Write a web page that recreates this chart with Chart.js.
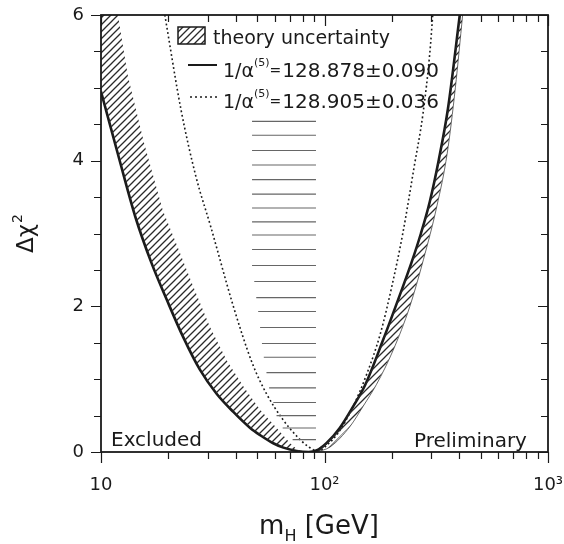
<!DOCTYPE html>
<html>
<head>
<meta charset="utf-8">
<script src="https://cdn.jsdelivr.net/npm/chart.js@4/dist/chart.umd.min.js"></script>
<style>
  html, body { margin: 0; padding: 0; background: #fff; }
  #wrap { width: 564px; height: 544px; }
</style>
</head>
<body>
<div id="wrap"><canvas id="chi2" width="564" height="544"></canvas></div>
<script>
'use strict';

// ── Data (mH in GeV, Δχ²) ───────────────────────────────────────
// 1/α(5) = 128.878 ± 0.090
const solidCurve = [
  [10, 4.95], [12.0, 4.05], [14.24, 3.23], [16.8, 2.6], [19.7, 2.09], [23.3, 1.58],
  [27.7, 1.13], [32.9, 0.8], [39.1, 0.55], [46.5, 0.33], [51.6, 0.23], [59, 0.12],
  [65.5, 0.06], [75, 0.015], [85, 0.0], [92, 0.02], [102, 0.12], [117, 0.33],
  [134, 0.62], [152, 0.92], [183, 1.54], [217, 2.15], [245, 2.6], [270, 3.0],
  [296, 3.44], [325, 4.02], [357, 4.72], [403, 6.0],
];

// 1/α(5) = 128.905 ± 0.036
const dottedCurve = [
  [19.3, 6.0], [22.8, 4.7], [26.6, 3.78], [31.0, 3.09], [39.1, 2.0], [47.5, 1.22],
  [55, 0.8], [65, 0.45], [75, 0.22], [85, 0.07], [92, 0.02], [97, 0.03], [100.5, 0.07],
  [115, 0.26], [134, 0.62], [155, 1.08], [178, 1.63], [200, 2.27], [224, 3.0],
  [252, 3.92], [276, 4.65], [296, 5.48], [305, 6.0],
];

// theory uncertainty: outer edges of the hatched bands
const bandLeftEdge = [
  [10, 7.4], [11.9, 6.0], [13.2, 5.16], [15.6, 4.24], [18.9, 3.32], [21.8, 2.85],
  [25.9, 2.27], [30.7, 1.72], [36.5, 1.26], [43.4, 0.9], [51.5, 0.58], [61.1, 0.33],
  [70.2, 0.12], [75, 0.04], [80, 0.0],
];
const bandRightEdge = [
  [92, 0.0], [106, 0.07], [130, 0.35], [149, 0.63], [171, 0.93], [203, 1.4],
  [241, 2.0], [277, 2.64], [318, 3.37], [354, 4.1], [385, 5.0], [415, 6.0],
];

// horizontally ruled region
const ruleLevels = [4.54, 4.35, 4.14, 3.94, 3.74, 3.54, 3.35, 3.16, 2.98, 2.78, 2.56, 2.34,
  2.12, 1.93, 1.71, 1.49, 1.30, 1.09, 0.88, 0.68, 0.50, 0.33, 0.17];
const ruleStart = [47.4, 47.4, 47.4, 47.4, 47.4, 47.4, 47.4, 47.4, 47.4, 47.4, 47.4, 48.5,
  49.5, 50.5, 51.5, 52.5, 53.5, 55, 56.5, 59, 61, 65, 72];
const ruleEnd = 91.6;

// axes
const xTicks = [10, 20, 30, 40, 50, 60, 70, 80, 90, 100, 200, 300, 400, 500, 600, 700, 800, 900, 1000];
const xMajor = [10, 100, 1000];
const xMajorLabels = ['10', '10²', '10³'];
const yTicks = [0, 0.5, 1, 1.5, 2, 2.5, 3, 3.5, 4, 4.5, 5, 5.5, 6];
const yLabelled = [0, 2, 4, 6];

// ── Helpers ──────────────────────────────────────────────────────
const FONT = 'DejaVu Sans';
const INK = '#1a1a1a';
const pts = (arr) => arr.map(([x, y]) => ({ x, y }));

function makeHatch(ctx, gap, lw) {
  const tile = document.createElement('canvas');
  tile.width = gap; tile.height = gap;
  const g = tile.getContext('2d');
  g.strokeStyle = '#2a2a2a';
  g.lineWidth = lw;
  g.beginPath();
  g.moveTo(0, gap); g.lineTo(gap, 0);
  g.moveTo(-gap / 2, gap / 2); g.lineTo(gap / 2, -gap / 2);
  g.moveTo(gap / 2, gap * 1.5); g.lineTo(gap * 1.5, gap / 2);
  g.stroke();
  return ctx.createPattern(tile, 'repeat');
}

const canvas = document.getElementById('chi2');
const ctx = canvas.getContext('2d');
const hatch = makeHatch(ctx, 7, 1.3);

// polygons for the hatched bands
const leftBand = solidCurve.filter(([m]) => m <= 80).concat(bandLeftEdge.slice().reverse());
const rightBand = solidCurve.filter(([m]) => m >= 92).concat(bandRightEdge.slice().reverse());

// ruled lines as one broken dataset
const rules = [];
ruleLevels.forEach((lv, i) => {
  rules.push({ x: ruleStart[i], y: lv }, { x: ruleEnd, y: lv }, { x: ruleEnd, y: null });
});

// ── Frame, ticks, texts ─────────────────────────────────────────
const decorations = {
  id: 'decorations',
  afterDraw(chart) {
    const { ctx: c, chartArea: a, scales: { x, y } } = chart;
    c.save();
    c.strokeStyle = INK;
    c.lineWidth = 1.8;
    c.strokeRect(a.left, a.top, a.right - a.left, a.bottom - a.top);

    c.lineWidth = 1.2;
    c.beginPath();
    xTicks.forEach((v) => {
      const px = Math.round(x.getPixelForValue(v)) + 0.5;
      const len = xMajor.includes(v) ? 11 : 7;
      c.moveTo(px, a.bottom); c.lineTo(px, a.bottom + len);
      c.moveTo(px, a.top); c.lineTo(px, a.top + len);
    });
    yTicks.forEach((v) => {
      const py = Math.round(y.getPixelForValue(v)) + 0.5;
      const len = yLabelled.includes(v) ? 10 : 7;
      c.moveTo(a.left, py); c.lineTo(a.left - len, py);
      c.moveTo(a.right, py); c.lineTo(a.right - len, py);
    });
    c.stroke();

    // legend
    c.fillStyle = '#fff';
    c.fillRect(178, 27, 27, 17);
    c.fillStyle = hatch;
    c.fillRect(178, 27, 27, 17);
    c.lineWidth = 1.5;
    c.strokeRect(178, 27, 27, 17);
    c.fillStyle = INK;
    c.textBaseline = 'alphabetic';
    c.font = `19px ${FONT}`;
    c.fillText('theory uncertainty', 213, 44);

    c.lineWidth = 2;
    c.beginPath(); c.moveTo(188, 65); c.lineTo(217, 65); c.stroke();
    c.lineWidth = 1.5;
    c.setLineDash([2, 3]);
    c.beginPath(); c.moveTo(190, 97); c.lineTo(217, 97); c.stroke();
    c.setLineDash([]);

    const alphaLine = (xs, base, value) => {
      c.font = `19px ${FONT}`;
      c.fillText('1/α', xs, base);
      let cx = xs + c.measureText('1/α').width;
      c.font = `11px ${FONT}`;
      c.fillText('(5)', cx, base - 11);
      cx += c.measureText('(5)').width;
      c.font = `14px ${FONT}`;
      c.fillText('=', cx, base - 2);
      cx += c.measureText('=').width + 1;
      c.font = `20px ${FONT}`;
      c.fillText(value, cx, base);
    };
    alphaLine(223, 77, '128.878±0.090');
    alphaLine(223, 108, '128.905±0.036');

    // region notes
    c.font = `20px ${FONT}`;
    c.fillText('Excluded', 111, 446);
    c.fillText('Preliminary', 414, 447);

    // x title: m_H [GeV]
    c.font = `26px ${FONT}`;
    const wm = c.measureText('m').width;
    const wg = c.measureText(' [GeV]').width;
    c.font = `16px ${FONT}`;
    const wh = c.measureText('H').width;
    const tx = 319 - (wm + wh + wg) / 2;
    c.font = `26px ${FONT}`;
    c.fillText('m', tx, 534);
    c.font = `16px ${FONT}`;
    c.fillText('H', tx + wm, 541);
    c.font = `26px ${FONT}`;
    c.fillText(' [GeV]', tx + wm + wh, 534);

    // y title: Δχ²
    c.translate(33, 234);
    c.rotate(-Math.PI / 2);
    c.font = `23px ${FONT}`;
    const wd = c.measureText('Δχ').width;
    c.font = `14px ${FONT}`;
    const w2 = c.measureText('2').width;
    const sx = -(wd + w2) / 2;
    c.font = `23px ${FONT}`;
    c.fillText('Δχ', sx, 0);
    c.font = `14px ${FONT}`;
    c.fillText('2', sx + wd + 1, -11);
    c.restore();
  },
};

// ── Chart ────────────────────────────────────────────────────────
new Chart(ctx, {
  type: 'scatter',
  data: {
    datasets: [
      {
        label: 'theory band (low mH)',
        data: pts(leftBand),
        showLine: true, borderWidth: 0, backgroundColor: hatch, fill: 'shape',
      },
      {
        label: 'theory band (high mH)',
        data: pts(rightBand),
        showLine: true, borderWidth: 0, backgroundColor: hatch, fill: 'shape',
      },
      {
        label: 'ruled region',
        data: rules,
        showLine: true, spanGaps: false, borderColor: '#666', borderWidth: 1.1,
      },
      {
        label: 'band edge',
        data: pts(bandRightEdge),
        showLine: true, borderColor: '#444', borderWidth: 0.8,
        cubicInterpolationMode: 'monotone',
      },
      {
        label: '1/α(5) = 128.905±0.036',
        data: pts(dottedCurve),
        showLine: true, borderColor: INK, borderWidth: 1.6, borderDash: [1.8, 2.6],
        cubicInterpolationMode: 'monotone',
      },
      {
        label: '1/α(5) = 128.878±0.090',
        data: pts(solidCurve),
        showLine: true, borderColor: INK, borderWidth: 2.6,
        cubicInterpolationMode: 'monotone',
      },
    ],
  },
  options: {
    responsive: false,
    animation: false,
    devicePixelRatio: 1,
    layout: { padding: { left: 0, right: 16, top: 15, bottom: 0 } },
    elements: { point: { radius: 0, hoverRadius: 0 }, line: { tension: 0 } },
    plugins: { legend: { display: false }, tooltip: { enabled: false } },
    scales: {
      x: {
        type: 'logarithmic',
        position: 'bottom',
        min: 10,
        max: 1000,
        afterBuildTicks: (s) => { s.ticks = xTicks.map((v) => ({ value: v })); },
        afterFit: (s) => { s.height = 92; s.paddingLeft = 0; s.paddingRight = 0; },
        grid: { display: false, drawTicks: false },
        border: { display: false },
        ticks: {
          autoSkip: false, maxRotation: 0, padding: 23, color: INK,
          font: { family: FONT, size: 18 },
          callback: (v) => {
            const i = xMajor.indexOf(v);
            return i >= 0 ? xMajorLabels[i] : '';
          },
        },
      },
      y: {
        type: 'linear',
        min: 0,
        max: 6,
        afterBuildTicks: (s) => { s.ticks = yTicks.map((v) => ({ value: v })); },
        afterFit: (s) => { s.width = 101; s.paddingTop = 0; s.paddingBottom = 0; },
        grid: { display: false, drawTicks: false },
        border: { display: false },
        ticks: {
          autoSkip: false, padding: 17, color: INK,
          font: { family: FONT, size: 18 },
          callback: (v) => (yLabelled.includes(v) ? String(v) : ''),
        },
      },
    },
  },
  plugins: [decorations],
});
</script>
</body>
</html>
